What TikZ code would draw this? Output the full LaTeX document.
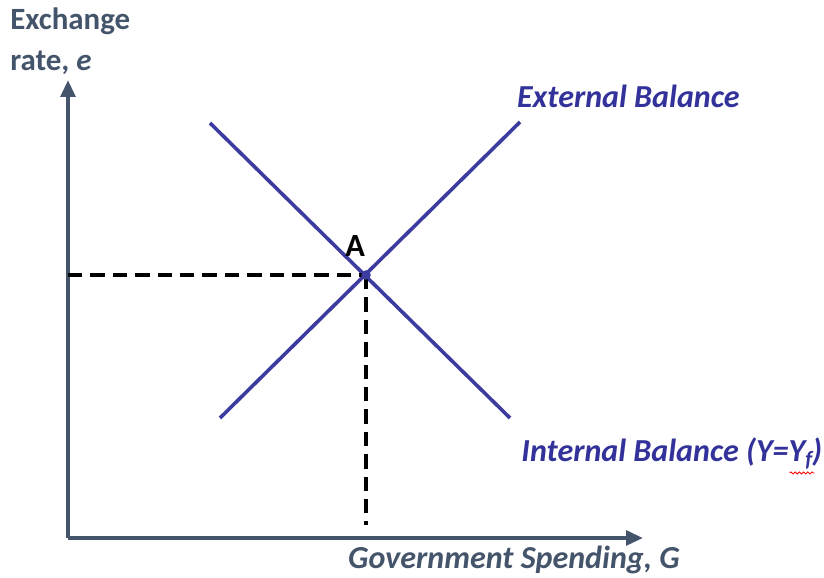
\documentclass[tikz,border=0pt]{standalone}
\usepackage{fontspec}
\setmainfont{Carlito}
\usetikzlibrary{arrows.meta,positioning,decorations.pathmorphing}
\definecolor{axisgray}{HTML}{44546A}
\definecolor{balblue}{HTML}{3C3CA0}
\definecolor{txtblue}{HTML}{32329A}

\tikzset{
    axis/.style={axisgray,line width=0.1cm,->},
    balance/.style={balblue,line width=0.09cm},
    guide/.style={black,line width=0.09cm,dash pattern=on 0.36cm off 0.2cm},
    lbl/.style={inner sep=0pt,font=\fontsize{22.8}{29}\selectfont\bfseries\itshape},
}

\begin{document}
\begin{tikzpicture}[>={Triangle[length=0.42cm,width=0.36cm]}]
    \useasboundingbox (-1.7,-0.975) rectangle (18.9,13.45);

    % axes
    \coordinate (O) at (0,0);
    \coordinate (ytip) at (0,11.45);
    \coordinate (xtip) at (14.375,0);
    \draw[axis] (O) -- (ytip);
    \draw[axis] (O) -- (xtip);

    \node[lbl,axisgray,align=left,anchor=north west,font=\fontsize{22}{28.5}\selectfont\bfseries] (ylabel) at (-1.45,13.25) {Exchange\\rate, \textit{e}};
    \node[lbl,axisgray] (xlabel) at (11.15,-0.56) {Government Spending, G};

    % balance schedules
    \coordinate (eb1) at (3.8,3.0);
    \coordinate (eb2) at (11.3,10.4);
    \coordinate (ib1) at (3.55,10.375);
    \coordinate (ib2) at (11.05,3.0);
    \draw[balance] (eb1) -- (eb2);
    \draw[balance] (ib1) -- (ib2);

    \node[lbl,txtblue,anchor=west] (external) at (11.22,11.03) {External Balance};
    \node[lbl,txtblue,anchor=west] (internal) at (11.33,2.12) {Internal Balance (Y=Y\raisebox{-0.3ex}{\fontsize{15.5}{15.5}\selectfont f})};
    \draw[red,line width=0.6pt,decorate,decoration={snake,amplitude=0.7pt,segment length=3pt}]
        ([xshift=-0.82cm,yshift=-0.1cm]internal.south east) -- ([xshift=-0.2cm,yshift=-0.1cm]internal.south east);

    % equilibrium point
    \coordinate (A) at (7.45,6.575);
    \coordinate (Ay) at (0,6.575);
    \coordinate (Ax) at (7.45,0.33);
    \draw[guide] (Ay) -- (A);
    \draw[guide] (A) -- (Ax);
    \fill[balblue] (A) circle (0.12);
    \node[font=\fontsize{23}{23}\selectfont\bfseries,inner sep=0pt,above left=0.45cm and 0.02cm of A] (pA) {A};
\end{tikzpicture}
\end{document}
